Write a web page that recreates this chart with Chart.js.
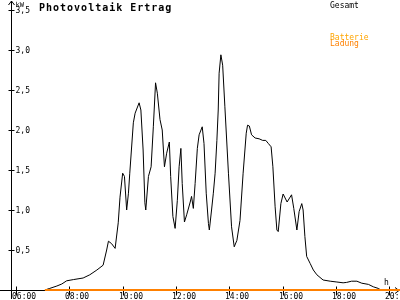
<!DOCTYPE html>
<html>
<head>
<meta charset="utf-8">
<title>Photovoltaik Ertrag</title>
<script src="https://cdn.jsdelivr.net/npm/chart.js@4.4.1/dist/chart.umd.min.js"></script>
<style>
  html, body { margin: 0; padding: 0; background: #fff; }
  canvas { display: block; }
</style>
</head>
<body>
<canvas id="pv" width="400" height="300"></canvas>
<script>
// Messzeitpunkte und Leistung (kW) "Gesamt"
const times = [
  "07:05","07:16","07:32","07:43","07:54","08:09","08:31","08:46","09:02","09:16",
  "09:24","09:28","09:35","09:43","09:50","09:54","10:00","10:04","10:09","10:13",
  "10:16","10:24","10:28","10:37","10:41","10:46","10:50","10:52","10:58","11:04",
  "11:09","11:14","11:18","11:24","11:29","11:34","11:39","11:45","11:48","11:53",
  "11:58","12:03","12:07","12:11","12:14","12:19","12:24","12:32","12:35","12:39",
  "12:43","12:48","12:52","12:59","13:03","13:08","13:13","13:15","13:20","13:24",
  "13:28","13:32","13:35","13:37","13:41","13:45","13:50","13:58","14:05","14:11",
  "14:17","14:24","14:31","14:38","14:41","14:45","14:50","14:58","15:07","15:15",
  "15:22","15:28","15:34","15:38","15:43","15:47","15:50","15:56","16:01","16:10",
  "16:20","16:25","16:32","16:37","16:43","16:46","16:50","16:54","17:02","17:09",
  "17:17","17:31","17:47","18:02","18:16","18:24","18:35","18:47","18:58","19:13",
  "19:24","19:35","19:41"
];
const gesamt = [
  0, 0.02, 0.05, 0.075, 0.115, 0.13, 0.15, 0.19, 0.25, 0.31,
  0.50, 0.61, 0.58, 0.52, 0.84, 1.16, 1.46, 1.42, 1.00, 1.21,
  1.46, 2.09, 2.21, 2.34, 2.25, 1.75, 1.09, 1.00, 1.42, 1.54,
  2.04, 2.59, 2.46, 2.13, 2.00, 1.54, 1.71, 1.85, 1.42, 0.92,
  0.77, 1.12, 1.54, 1.77, 1.33, 0.85, 0.94, 1.10, 1.17, 1.02,
  1.33, 1.77, 1.94, 2.04, 1.83, 1.21, 0.83, 0.75, 1.00, 1.21,
  1.46, 1.87, 2.25, 2.71, 2.94, 2.81, 2.29, 1.46, 0.79, 0.54,
  0.62, 0.87, 1.46, 1.96, 2.06, 2.05, 1.94, 1.90, 1.89, 1.87,
  1.87, 1.83, 1.79, 1.54, 1.04, 0.75, 0.73, 1.08, 1.20, 1.10,
  1.19, 1.02, 0.75, 0.98, 1.08, 1.00, 0.67, 0.42, 0.33, 0.25,
  0.19, 0.125, 0.11, 0.10, 0.09, 0.095, 0.11, 0.11, 0.085, 0.07,
  0.04, 0.02, 0
];
// Batterie-Ladung (liegt den ganzen Tag bei 0)
const ladungTimes = ["07:05", "20:25"];
const ladung = [0, 0];
const batterie = [];

const xTicks = ["06:00","08:00","10:00","12:00","14:00","16:00","18:00","20:00"];
const yTicks = [0.5, 1.0, 1.5, 2.0, 2.5, 3.0, 3.5];

const toHour = (t) => { const [h, m] = t.split(":"); return +h + m / 60; };
const pts = (ts, vs) => ts.map((t, i) => ({ x: toHour(t), y: vs[i] }));

const mono = '"DejaVu Sans Mono", monospace';

// Achsen mit Pfeilen, Ticks, Beschriftung
const axesPlugin = {
  id: 'pvAxes',
  beforeDatasetsDraw(chart) {
    const { ctx, chartArea: a, scales: { x, y } } = chart;
    ctx.save();
    ctx.strokeStyle = '#000';
    ctx.fillStyle = '#000';
    ctx.lineWidth = 1;
    const ax = Math.round(a.left) + 0.5;
    const ay = Math.round(a.bottom) + 0.5;
    ctx.beginPath();
    // y-Achse
    ctx.moveTo(ax, 299); ctx.lineTo(ax, 1);
    ctx.moveTo(ax - 3, 5); ctx.lineTo(ax, 1); ctx.lineTo(ax + 3, 5);
    // x-Achse
    ctx.moveTo(0, ay); ctx.lineTo(400, ay);
    ctx.moveTo(395, ay - 3); ctx.lineTo(399, ay); ctx.lineTo(395, ay + 3);
    yTicks.forEach(v => {
      const py = Math.round(y.getPixelForValue(v)) + 0.5;
      ctx.moveTo(ax - 3, py); ctx.lineTo(ax + 3, py);
    });
    xTicks.forEach(t => {
      const px = Math.round(x.getPixelForValue(toHour(t))) + 0.5;
      ctx.moveTo(px, ay - 4); ctx.lineTo(px, ay + 5);
    });
    ctx.stroke();

    ctx.font = '8px ' + mono;
    ctx.textAlign = 'left';
    ctx.textBaseline = 'middle';
    yTicks.forEach(v => {
      ctx.fillText(v.toFixed(1).replace('.', ','), ax + 4, y.getPixelForValue(v) + 0.5);
    });
    ctx.textBaseline = 'alphabetic';
    xTicks.forEach(t => {
      ctx.fillText(t, Math.round(x.getPixelForValue(toHour(t))) - 4, 299);
    });
    ctx.font = '7px ' + mono;
    ctx.fillText('kW', ax + 4, 7);
    ctx.font = '8px ' + mono;
    ctx.fillText('h', 384, 285);

    // Titel
    ctx.font = 'bold 10px ' + mono;
    ctx.letterSpacing = '1px';
    ctx.fillText('Photovoltaik Ertrag', 39, 11);
    ctx.letterSpacing = '0px';

    // Legende (nur Text)
    ctx.font = '8px ' + mono;
    const legendY = { 'Gesamt': 8, 'Batterie': 39.5, 'Ladung': 46 };
    chart.data.datasets.forEach(ds => {
      ctx.fillStyle = ds.borderColor;
      ctx.fillText(ds.label, 330, legendY[ds.label]);
    });
    ctx.restore();
  }
};

new Chart(document.getElementById('pv'), {
  type: 'line',
  data: {
    datasets: [
      { label: 'Gesamt', data: pts(times, gesamt), borderColor: '#000000', borderWidth: 1, pointRadius: 0, tension: 0, order: 1 },
      { label: 'Batterie', data: batterie, borderColor: '#ffa500', borderWidth: 1, pointRadius: 0, order: 2 },
      { label: 'Ladung', data: pts(ladungTimes, ladung), borderColor: '#ff8000', borderWidth: 2, pointRadius: 0, clip: false, order: 0 }
    ]
  },
  options: {
    responsive: false,
    animation: false,
    layout: { padding: { left: 11, right: 0, top: 10, bottom: 10 } },
    plugins: { legend: { display: false }, tooltip: { enabled: false } },
    scales: {
      x: { type: 'linear', min: 5.8125, max: 20.4, display: false },
      y: { min: 0, max: 3.5, display: false }
    }
  },
  plugins: [axesPlugin]
});
</script>
</body>
</html>
